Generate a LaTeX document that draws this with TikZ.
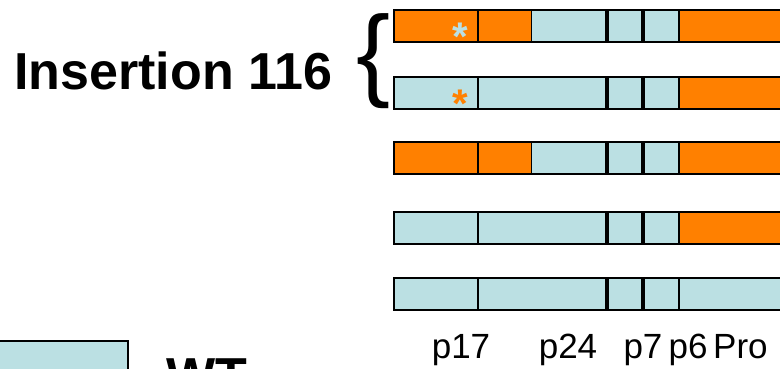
\documentclass[tikz,border=0pt]{standalone}
\usepackage{fontspec}
\setmainfont{Liberation Sans}
\definecolor{orng}{HTML}{FF8000}
\definecolor{wtblue}{HTML}{BBE0E3}
\tikzset{
  seglbl/.style={font=\fontsize{35}{40}\selectfont, anchor=base, inner sep=0pt},
  biglbl/.style={font=\bfseries\fontsize{52}{60}\selectfont, anchor=base west, inner sep=0pt},
  star/.style={font=\bfseries\fontsize{40}{40}\selectfont, anchor=base, inner sep=0pt}
}

\begin{document}
\begin{tikzpicture}[x=1pt,y=-1pt]
  \useasboundingbox (0,0) rectangle (780,368);
  \clip (0,0) rectangle (780,368);
  % bars: top / first segment / second segment / right part / middle divider colour
  \foreach \y/\a/\b/\c/\d in {10/orng/orng/orng/black, 77/wtblue/wtblue/orng/wtblue,
      142/orng/orng/orng/black, 212/wtblue/wtblue/orng/wtblue, 278/wtblue/wtblue/wtblue/wtblue} {
    \fill[\a] (394,\y) rectangle (478,\y+32);
    \fill[\b] (478,\y) rectangle (531,\y+32);
    \fill[wtblue] (531,\y) rectangle (679,\y+32);
    \fill[\c] (679,\y) rectangle (800,\y+32);
    \draw[\d,line width=1] (531,\y+1) -- (531,\y+31);
    \draw[line width=1.5] (478,\y) -- (478,\y+32);
    \draw[line width=1.5] (679,\y) -- (679,\y+32);
    \draw[line width=4] (607,\y) -- (607,\y+32);
    \draw[line width=4] (643,\y) -- (643,\y+32);
    \draw[line width=2.5] (394,\y) rectangle (800,\y+32);
  }
  \node[star,wtblue] (s1) at (460,50) {*};
  \node[star,orng] (s2) at (460,117) {*};
  % labels
  \node[biglbl] (ins) at (14,89) {Insertion 116};
  \node[font=\fontsize{102}{102}\selectfont, anchor=base west, inner sep=0pt] (brc) at (356,87) {\{};
  \node[seglbl] (p17) at (461,358) {p17};
  \node[seglbl] (p24) at (568,358) {p24};
  \node[seglbl] (p7) at (643,358) {p7};
  \node[seglbl] (p6) at (688,358) {p6};
  \node[seglbl,anchor=base west] (pro) at (713,358) {Pro};
  % legend
  \fill[wtblue] (-5,341) rectangle (128,400);
  \draw[line width=1.5] (-5,341) rectangle (128,400);
  \node[biglbl] (wt) at (166,394) {WT};
\end{tikzpicture}
\end{document}
